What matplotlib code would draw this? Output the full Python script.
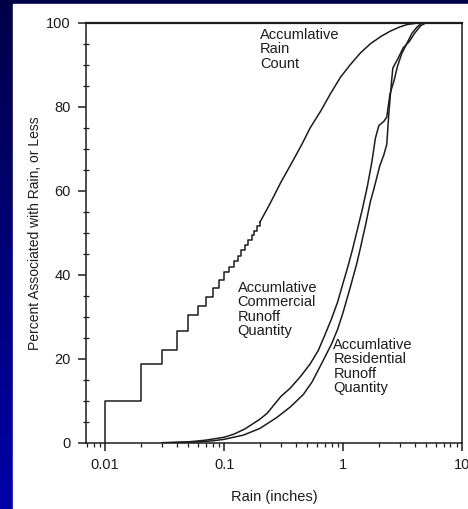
import numpy as np
import matplotlib
matplotlib.use("Agg")
import matplotlib.pyplot as plt
from matplotlib.patches import Rectangle

plt.rcParams['font.family'] = ['Liberation Sans', 'DejaVu Sans']

# Rain count: cumulative steps at each 0.01 inch, then a smooth tail
rain_step_x = [0.01, 0.01, 0.02, 0.03, 0.04, 0.05, 0.06, 0.07, 0.08, 0.09, 0.10,
               0.11, 0.12, 0.13, 0.14, 0.15, 0.16, 0.17, 0.18, 0.19, 0.20]
rain_step_y = [0, 10.0, 18.7, 22.0, 26.7, 30.4, 32.6, 34.8, 36.8, 38.7, 40.6,
               41.9, 43.2, 44.5, 45.8, 47.0, 48.2, 49.4, 50.5, 51.5, 52.5]
rain_tail_x = [0.20, 0.244, 0.30, 0.36, 0.45, 0.53, 0.65, 0.78, 0.95, 1.15,
               1.4, 1.7, 2.1, 2.5, 3.0, 3.5, 4.2, 5.0, 10.0]
rain_tail_y = [52.5, 57.0, 62.0, 66.0, 71.0, 75.0, 79.0, 83.0, 87.0, 90.0,
               92.8, 95.0, 96.8, 98.0, 99.0, 99.6, 99.9, 100, 100]

# commercial runoff quantity
com_x = [0.03, 0.05, 0.07, 0.10, 0.12, 0.15, 0.20, 0.23, 0.30, 0.36, 0.44,
         0.53, 0.62, 0.70, 0.80, 0.90, 1.00, 1.10, 1.20, 1.30, 1.45, 1.60,
         1.75, 1.87, 2.00, 2.20, 2.33, 2.48, 2.70, 2.86, 3.10, 3.43, 3.80,
         4.20, 4.60, 10.0]
com_y = [0, 0.2, 0.6, 1.3, 2.0, 3.3, 5.6, 7.0, 11.0, 13.0, 15.8,
         18.8, 22.0, 25.5, 29.5, 33.5, 38.0, 42.0, 46.0, 50.0, 55.5, 61.0,
         67.0, 72.5, 75.5, 76.5, 77.5, 83.0, 86.5, 89.5, 92.5, 95.0, 97.5,
         99.0, 100, 100]

# residential runoff quantity
res_x = [0.035, 0.06, 0.08, 0.10, 0.145, 0.20, 0.277, 0.36, 0.464, 0.55,
         0.684, 0.80, 0.90, 1.00, 1.15, 1.30, 1.39, 1.55, 1.70, 1.80, 2.04,
         2.20, 2.33, 2.42, 2.52, 2.62, 2.90, 3.20, 3.60, 4.00, 4.50, 5.00, 10.0]
res_y = [0, 0.2, 0.45, 0.8, 1.8, 3.4, 6.0, 8.5, 11.5, 14.5,
         19.7, 23.5, 27.0, 31.0, 37.0, 42.5, 46.0, 52.0, 57.5, 60.0, 66.0,
         68.5, 71.0, 78.0, 84.0, 89.2, 91.5, 94.0, 95.5, 97.5, 99.3, 100, 100]

labels = ["Accumlative\nRain\nCount",
          "Accumlative\nCommercial\nRunoff\nQuantity",
          "Accumlative\nResidential\nRunoff\nQuantity"]
label_pos = [(0.2, 98.8), (0.13, 38.6), (0.83, 25)]

ink = '#1c1c1c'

fig = plt.figure(figsize=(4.68, 5.09), dpi=100)

# blue slide background with a white panel on top
bg = fig.add_axes([0, 0, 1, 1], zorder=-10)
grad = np.linspace(0, 1, 256).reshape(-1, 1)
bg.imshow(grad, aspect='auto', extent=(0, 1, 0, 1),
          cmap=matplotlib.colors.LinearSegmentedColormap.from_list(
              'slide', ['#0000a8', '#000048']), origin='lower')
bg.add_patch(Rectangle((13 / 468, 0), 1, (509 - 4) / 509, color='white'))
bg.set_xlim(0, 1)
bg.set_ylim(0, 1)
bg.axis('off')

ax = fig.add_axes([86 / 468, (509 - 442.7) / 509, 376 / 468, 420 / 509])
ax.set_facecolor('white')

ax.plot(rain_step_x, rain_step_y, drawstyle='steps-post', color=ink, lw=1.1)
ax.plot(rain_tail_x, rain_tail_y, color=ink, lw=1.1)
ax.plot(com_x, com_y, color=ink, lw=1.1)
ax.plot(res_x, res_y, color=ink, lw=1.1)

ax.set_xscale('log')
ax.set_xlim(0.0069, 10)
ax.set_ylim(0, 100)
ax.set_xticks([0.01, 0.1, 1, 10])
ax.set_xticklabels(['0.01', '0.1', '1', '10'])
ax.set_yticks([0, 20, 40, 60, 80, 100])
ax.set_yticks(np.arange(0, 101, 5), minor=True)

ax.tick_params(axis='both', which='major', direction='out', length=6,
               width=1.1, color=ink, labelcolor=ink, labelsize=10.5, pad=5)
ax.tick_params(axis='y', which='minor', direction='inout', length=4,
               width=0.9, color=ink)
ax.tick_params(axis='x', which='minor', direction='out', length=3,
               width=0.9, color=ink)
for s in ax.spines.values():
    s.set_color(ink)
    s.set_linewidth(1.1)
ax.spines['top'].set_linewidth(1.6)

for txt, (x, y) in zip(labels, label_pos):
    ax.text(x, y, txt, ha='left', va='top', fontsize=10.5, color=ink,
            linespacing=1.05)

ax.set_xlabel('Rain (inches)', fontsize=10.5, color=ink, labelpad=13)
ax.set_ylabel('Percent Associated with Rain, or Less', fontsize=10,
              color=ink, labelpad=3)

fig.savefig('out.png', dpi=100)
